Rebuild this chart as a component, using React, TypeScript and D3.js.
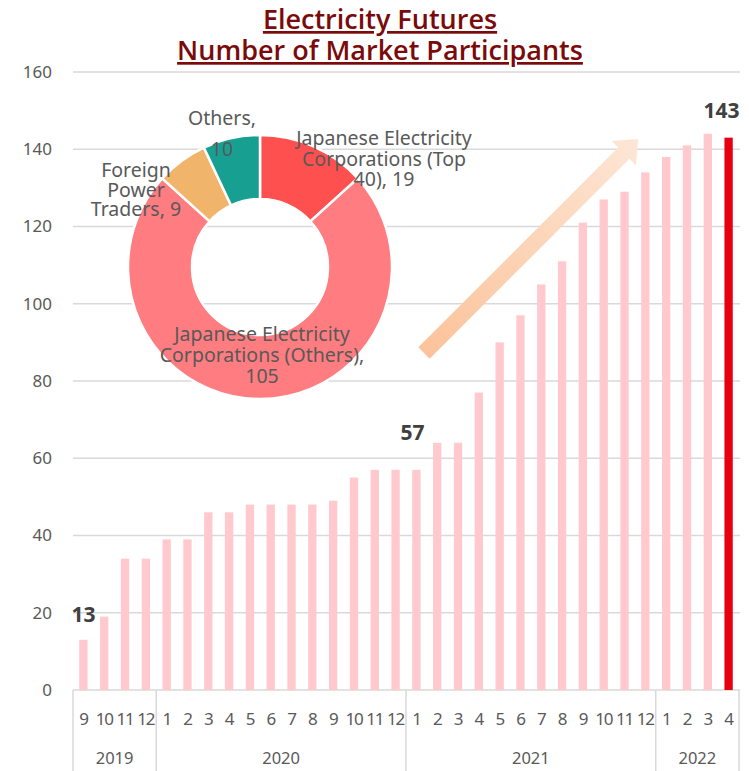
import { useEffect } from 'react';
import * as d3 from 'd3';

// monthly number of participants, 2019/9 .. 2022/4
const months = ['9', '10', '11', '12', '1', '2', '3', '4', '5', '6', '7', '8', '9', '10', '11', '12', '1', '2', '3', '4', '5', '6', '7', '8', '9', '10', '11', '12', '1', '2', '3', '4'];
const participants = [13, 19, 34, 34, 39, 39, 46, 46, 48, 48, 48, 48, 49, 55, 57, 57, 57, 64, 64, 77, 90, 97, 105, 111, 121, 127, 129, 134, 138, 141, 144, 143];
const years = ['2019', '2020', '2021', '2022'];
const yearMonthCounts = [4, 12, 12, 4];
const yTicks = [0, 20, 40, 60, 80, 100, 120, 140, 160];

// callouts on bars: index into participants
const calloutIdx = [0, 16, 31];

// breakdown for the latest month
const segNames = ['Japanese Electricity Corporations (Top 40)', 'Japanese Electricity Corporations (Others)', 'Foreign Power Traders', 'Others'];
const segValues = [19, 105, 9, 10];
const segColors = ['#ff5050', '#ff7c80', '#f0b46a', '#17a092'];

const W = 749;
const H = 771;
const M = { left: 73, right: 739, top: 72, bottom: 690 };
const grey = '#595959';
const font = '"Noto Sans", "DejaVu Sans", sans-serif';

export default function App() {
  useEffect(() => {
    document.body.style.margin = '0';
  }, []);

  const x = d3.scaleBand<number>()
    .domain(d3.range(participants.length))
    .range([M.left, M.right])
    .paddingInner(0.6)
    .paddingOuter(0.3);
  const step = x.step();
  const y = d3.scaleLinear().domain([0, 160]).range([M.bottom, M.top]);

  // year boundaries
  const bounds: number[] = [0];
  yearMonthCounts.forEach((c, i) => bounds.push(bounds[i] + c));
  const edge = (i: number) => M.left + i * step;

  const pie = d3.pie<number>().sort(null).value(d => d);
  const arcs = pie(segValues);
  const arc = d3.arc<d3.PieArcDatum<number>>().innerRadius(68).outerRadius(132);
  const cx = 260;
  const cy = 267;

  // arrow, drawn along +x then rotated
  const tail = [424, 353];
  const tip = [638, 139];
  const len = Math.hypot(tip[0] - tail[0], tip[1] - tail[1]);
  const ang = (Math.atan2(tip[1] - tail[1], tip[0] - tail[0]) * 180) / Math.PI;
  const sw = 8;
  const hw = 17;
  const hl = 20;
  const arrowPath = d3.path();
  arrowPath.moveTo(0, -sw);
  arrowPath.lineTo(len - hl, -sw);
  arrowPath.lineTo(len - hl, -hw);
  arrowPath.lineTo(len, 0);
  arrowPath.lineTo(len - hl, hw);
  arrowPath.lineTo(len - hl, sw);
  arrowPath.lineTo(0, sw);
  arrowPath.closePath();

  const calloutDy: Record<number, number> = { 0: -18, 16: -30, 31: -20 };
  const calloutDx: Record<number, number> = { 0: 0, 16: -4, 31: -7 };

  return (
    <svg width={W} height={H} style={{ display: 'block', background: '#fff' }} fontFamily={font}>
      <defs>
        <linearGradient id="arrowGrad" x1="0" y1="0" x2={len} y2="0" gradientUnits="userSpaceOnUse">
          <stop offset="0%" stopColor="#fbc39a" />
          <stop offset="100%" stopColor="#fde6d6" />
        </linearGradient>
      </defs>

      {/* title */}
      <g fill="#7b0a0a" fontFamily='"Open Sans", "Noto Sans", sans-serif' fontWeight={600} fontSize={27} textAnchor="middle" textDecoration="underline">
        <text x={380} y={29}>Electricity Futures</text>
        <text x={380} y={60}>Number of Market Participants</text>
      </g>

      {/* grid + y labels */}
      {yTicks.map(t => (
        <g key={t}>
          <line x1={M.left} x2={M.right + 1} y1={y(t)} y2={y(t)} stroke="#d9d9d9" strokeWidth={1.5} />
          <text x={52} y={y(t)} dy="0.35em" textAnchor="end" fontSize={17} fill={grey}>{t}</text>
        </g>
      ))}

      {/* bars */}
      {participants.map((v, i) => (
        <rect
          key={i}
          x={x(i)}
          y={y(v)}
          width={x.bandwidth()}
          height={y(0) - y(v)}
          fill={i === participants.length - 1 ? '#e60012' : '#ffc9cd'}
        />
      ))}

      {/* category axis */}
      {bounds.map(b => (
        <line key={b} x1={edge(b)} x2={edge(b)} y1={M.bottom} y2={H} stroke="#d9d9d9" strokeWidth={1.5} />
      ))}
      {months.map((m, i) => (
        <text key={i} x={x(i)! + x.bandwidth() / 2} y={725} textAnchor="middle" fontSize={17} letterSpacing={-1.2} fill={grey}>{m}</text>
      ))}
      {years.map((yr, i) => (
        <text key={yr} x={(edge(bounds[i]) + edge(bounds[i + 1])) / 2} y={764} textAnchor="middle" fontSize={16.5} fill={grey}>{yr}</text>
      ))}

      {/* callout values */}
      {calloutIdx.map(i => (
        <text
          key={i}
          x={x(i)! + x.bandwidth() / 2 + calloutDx[i]}
          y={y(participants[i]) + calloutDy[i]}
          textAnchor="middle"
          fontSize={21}
          fontWeight="bold"
          fill="#404040"
        >
          {participants[i]}
        </text>
      ))}

      {/* growth arrow */}
      <g transform={`translate(${tail[0]},${tail[1]}) rotate(${ang})`}>
        <path d={arrowPath.toString()} fill="url(#arrowGrad)" />
      </g>

      {/* donut */}
      <g transform={`translate(${cx},${cy})`}>
        {arcs.map((a, i) => (
          <path key={segNames[i]} d={arc(a)!} fill={segColors[i]} stroke="#fff" strokeWidth={2.5} />
        ))}
      </g>
      <g fontSize={19.5} fill={grey} textAnchor="middle">
        <text>
          <tspan x={384} y={145}>Japanese Electricity</tspan>
          <tspan x={384} y={165.5}>Corporations (Top</tspan>
          <tspan x={384} y={186}>40), {segValues[0]}</tspan>
        </text>
        <text>
          <tspan x={262} y={341}>Japanese Electricity</tspan>
          <tspan x={262} y={362}>Corporations (Others),</tspan>
          <tspan x={262} y={383}>{segValues[1]}</tspan>
        </text>
        <text>
          <tspan x={136} y={177}>Foreign</tspan>
          <tspan x={136} y={197}>Power</tspan>
          <tspan x={136} y={216}>Traders, {segValues[2]}</tspan>
        </text>
        <text>
          <tspan x={222} y={125}>Others,</tspan>
          <tspan x={222} y={156}>{segValues[3]}</tspan>
        </text>
      </g>
    </svg>
  );
}
